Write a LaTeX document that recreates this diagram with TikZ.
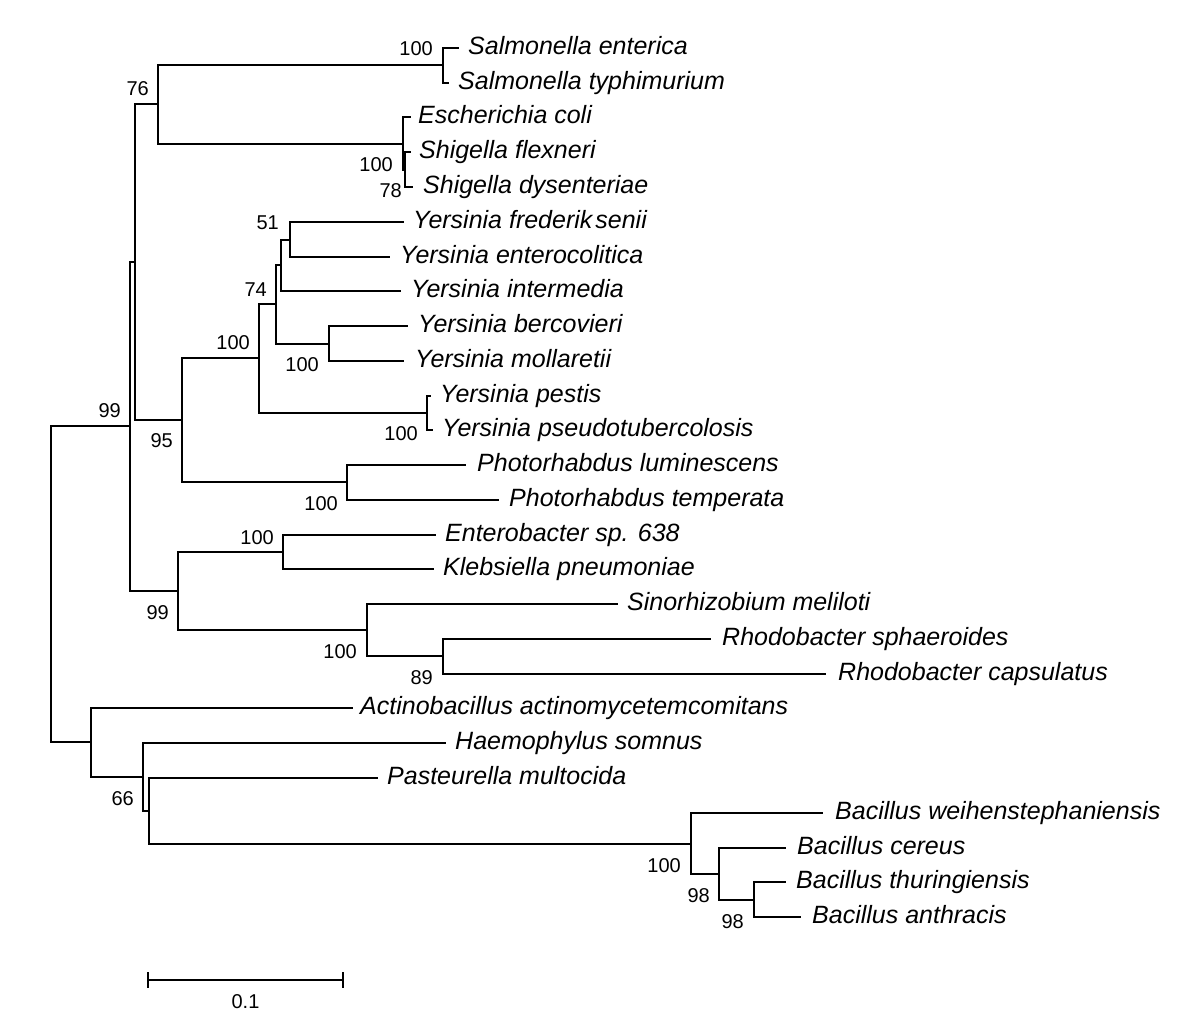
\documentclass[tikz,border=0pt]{standalone}
\usepackage{fontspec}
\setmainfont{Liberation Sans}
\begin{document}
\begin{tikzpicture}[x=1pt,y=-1pt,
  br/.style={draw=black,line width=2pt,line join=miter,line cap=rect},
  sp/.style={anchor=base west,inner sep=0pt,font=\fontsize{25}{30}\selectfont\itshape},
  bs/.style={anchor=base east,inner sep=0pt,font=\fontsize{20}{24}\selectfont}]
\useasboundingbox[fill=white] (0,0) rectangle (1200,1031);
% leaf ends
\coordinate (l1) at (458,48);
\coordinate (l2) at (448,83);
\coordinate (l3) at (410,117);
\coordinate (l4) at (410,152);
\coordinate (l5) at (412,187);
\coordinate (l6) at (403,222);
\coordinate (l7) at (389,257);
\coordinate (l8) at (400,291);
\coordinate (l9) at (407,326);
\coordinate (l10) at (403,361);
\coordinate (l11) at (430,396);
\coordinate (l12) at (432,430);
\coordinate (l13) at (465,465);
\coordinate (l14) at (498,500);
\coordinate (l15) at (435,535);
\coordinate (l16) at (433,569);
\coordinate (l17) at (617,604);
\coordinate (l18) at (710,639);
\coordinate (l19) at (825,674);
\coordinate (l20) at (352,708);
\coordinate (l21) at (445,743);
\coordinate (l22) at (377,778);
\coordinate (l23) at (822,813);
\coordinate (l24) at (785,848);
\coordinate (l25) at (785,882);
\coordinate (l26) at (800,917);
% internal nodes
\coordinate (nsal) at (443,65);
\coordinate (nshig) at (405,170);
\coordinate (neco) at (403,144);
\coordinate (n76) at (158,104);
\coordinate (n51) at (290,240);
\coordinate (nint) at (281,265);
\coordinate (nbm) at (329,344);
\coordinate (n74) at (276,304);
\coordinate (npest) at (427,413);
\coordinate (nyer) at (259,358);
\coordinate (npho) at (347,482);
\coordinate (n95) at (182,420);
\coordinate (nA) at (135,262);
\coordinate (nent) at (283,552);
\coordinate (n89) at (443,656);
\coordinate (nrhz) at (367,630);
\coordinate (n99b) at (178,591);
\coordinate (nB) at (130,426);
\coordinate (nbta) at (754,900);
\coordinate (ncer) at (719,874);
\coordinate (nbac) at (691,844);
\coordinate (nE) at (149,811);
\coordinate (nD) at (143,777);
\coordinate (nC) at (91,742);
\coordinate (root) at (51,584);
% branches
\draw[br] (nsal) |- (l1); \draw[br] (nsal) |- (l2);
\draw[br] (nshig) |- (l4); \draw[br] (nshig) |- (l5);
\draw[br] (neco) |- (l3); \draw[br] (neco) |- (nshig);
\draw[br] (n76) |- (nsal); \draw[br] (n76) |- (neco);
\draw[br] (n51) |- (l6); \draw[br] (n51) |- (l7);
\draw[br] (nint) |- (n51); \draw[br] (nint) |- (l8);
\draw[br] (nbm) |- (l9); \draw[br] (nbm) |- (l10);
\draw[br] (n74) |- (nint); \draw[br] (n74) |- (nbm);
\draw[br] (npest) |- (l11); \draw[br] (npest) |- (l12);
\draw[br] (nyer) |- (n74); \draw[br] (nyer) |- (npest);
\draw[br] (npho) |- (l13); \draw[br] (npho) |- (l14);
\draw[br] (n95) |- (nyer); \draw[br] (n95) |- (npho);
\draw[br] (nA) |- (n76); \draw[br] (nA) |- (n95);
\draw[br] (nent) |- (l15); \draw[br] (nent) |- (l16);
\draw[br] (n89) |- (l18); \draw[br] (n89) |- (l19);
\draw[br] (nrhz) |- (l17); \draw[br] (nrhz) |- (n89);
\draw[br] (n99b) |- (nent); \draw[br] (n99b) |- (nrhz);
\draw[br] (nB) |- (nA); \draw[br] (nB) |- (n99b);
\draw[br] (nbta) |- (l25); \draw[br] (nbta) |- (l26);
\draw[br] (ncer) |- (l24); \draw[br] (ncer) |- (nbta);
\draw[br] (nbac) |- (l23); \draw[br] (nbac) |- (ncer);
\draw[br] (nE) |- (l22); \draw[br] (nE) |- (nbac);
\draw[br] (nD) |- (l21); \draw[br] (nD) |- (nE);
\draw[br] (nC) |- (l20); \draw[br] (nC) |- (nD);
\draw[br] (root) |- (nB); \draw[br] (root) |- (nC);
% species names
\node[sp] (t1) at (468,54) {Salmonella enterica};
\node[sp] (t2) at (458,89) {Salmonella typhimurium};
\node[sp] (t3) at (418,123) {Escherichia coli};
\node[sp] (t4) at (419,158) {Shigella flexneri};
\node[sp] (t5) at (423,193) {Shigella dysenteriae};
\node[sp] (t6) at (413,228) {Yersinia frederik\hspace{3pt}senii};
\node[sp] (t7) at (400,263) {Yersinia enterocolitica};
\node[sp] (t8) at (411,297) {Yersinia intermedia};
\node[sp] (t9) at (418,332) {Yersinia bercovieri};
\node[sp] (t10) at (415,367) {Yersinia mollaretii};
\node[sp] (t11) at (440,402) {Yersinia pestis};
\node[sp] (t12) at (442,436) {Yersinia pseudotubercolosis};
\node[sp] (t13) at (477,471) {Photorhabdus luminescens};
\node[sp] (t14) at (509,506) {Photorhabdus temperata};
\node[sp] (t15) at (445,541) {Enterobacter sp. 638};
\node[sp] (t16) at (443,575) {Klebsiella pneumoniae};
\node[sp] (t17) at (627,610) {Sinorhizobium meliloti};
\node[sp] (t18) at (722,645) {Rhodobacter sphaeroides};
\node[sp] (t19) at (838,680) {Rhodobacter capsulatus};
\node[sp] (t20) at (360,714) {Actinobacillus actinomycetemcomitans};
\node[sp] (t21) at (455,749) {Haemophylus somnus};
\node[sp] (t22) at (387,784) {Pasteurella multocida};
\node[sp] (t23) at (835,819) {Bacillus weihenstephaniensis};
\node[sp] (t24) at (797,854) {Bacillus cereus};
\node[sp] (t25) at (796,888) {Bacillus thuringiensis};
\node[sp] (t26) at (812,923) {Bacillus anthracis};
% bootstrap values
\node[bs] (b1) at (433,55) {100};
\node[bs] (b2) at (149,95) {76};
\node[bs] (b3) at (393,171) {100};
\node[bs] (b4) at (402,197) {78};
\node[bs] (b5) at (279,229) {51};
\node[bs] (b6) at (267,296) {74};
\node[bs] (b7) at (250,349) {100};
\node[bs] (b8) at (319,371) {100};
\node[bs] (b9) at (418,440) {100};
\node[bs] (b10) at (173,447) {95};
\node[bs] (b11) at (338,510) {100};
\node[bs] (b12) at (121,417) {99};
\node[bs] (b13) at (274,544) {100};
\node[bs] (b14) at (169,619) {99};
\node[bs] (b15) at (357,658) {100};
\node[bs] (b16) at (433,684) {89};
\node[bs] (b17) at (134,805) {66};
\node[bs] (b18) at (681,872) {100};
\node[bs] (b19) at (710,902) {98};
\node[bs] (b20) at (744,928) {98};
% scale bar
\coordinate (sb1) at (148,980);
\coordinate (sb2) at (343,980);
\draw[br,line cap=butt] (sb1) -- (sb2);
\draw[br,line cap=butt] ([yshift=8pt]sb1) -- ([yshift=-8pt]sb1);
\draw[br,line cap=butt] ([yshift=8pt]sb2) -- ([yshift=-8pt]sb2);
\node[anchor=base,inner sep=0pt,font=\fontsize{20}{24}\selectfont] (sbl) at (245.5,1008) {0.1};
\end{tikzpicture}
\end{document}
